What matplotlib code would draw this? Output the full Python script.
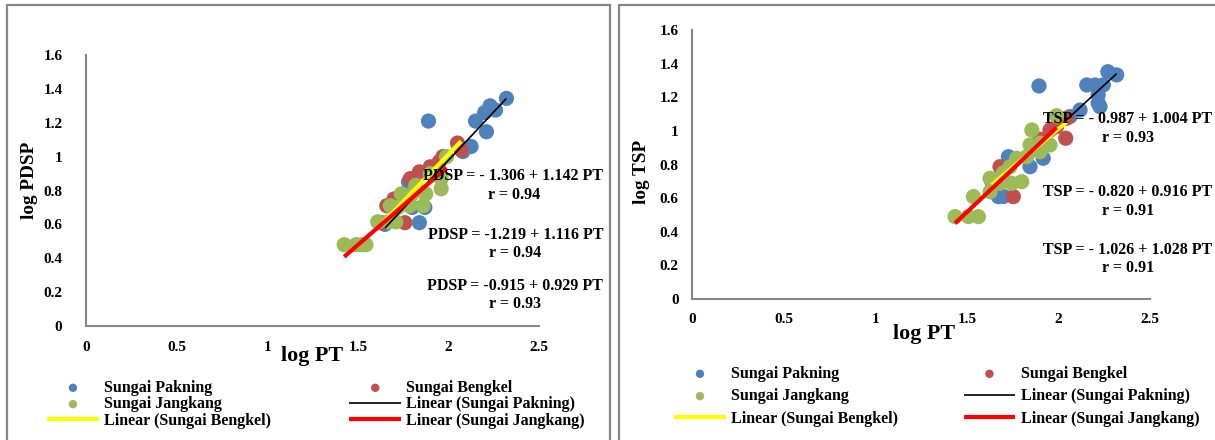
import matplotlib
matplotlib.use("Agg")
import matplotlib.pyplot as plt
from matplotlib.patches import Rectangle
from matplotlib.ticker import FuncFormatter
import numpy as np

plt.rcParams['font.family'] = ['Liberation Serif', 'DejaVu Serif']
plt.rcParams['font.weight'] = 'bold'

# ---------------- data: left panel (log PDSP vs log PT) ----------------
pdsp_pakning_x = [1.89, 2.32, 2.23, 2.26, 2.20, 2.15, 2.21, 2.125, 2.08, 1.78, 1.80, 1.87, 1.84, 1.65]
pdsp_pakning_y = [1.21, 1.344, 1.30, 1.275, 1.26, 1.21, 1.147, 1.06, 1.03, 0.85, 0.70, 0.70, 0.61, 0.60]
pdsp_bengkel_x = [2.05, 2.07, 1.97, 1.95, 1.90, 1.84, 1.79, 1.66, 1.76, 1.63, 1.70]
pdsp_bengkel_y = [1.08, 1.04, 1.00, 0.97, 0.94, 0.91, 0.87, 0.71, 0.61, 0.61, 0.75]
pdsp_jangkang_x = [1.425, 1.49, 1.52, 1.545, 1.61, 1.67, 1.71, 1.68, 1.74, 1.80, 1.875, 1.86,
                   1.785, 1.96, 1.96, 1.99, 1.82, 1.90, 1.72]
pdsp_jangkang_y = [0.48, 0.48, 0.48, 0.48, 0.615, 0.615, 0.615, 0.71, 0.78, 0.78, 0.78, 0.71,
                   0.71, 0.81, 0.87, 1.00, 0.83, 0.90, 0.70]
# trendline coefficients (intercept, slope) printed on chart
pdsp_fit_pakning = (-1.306, 1.142)
pdsp_fit_bengkel = (-1.219, 1.116)
pdsp_fit_jangkang = (-0.915, 0.929)
pdsp_eq_texts = ["PDSP = - 1.306 + 1.142 PT", "PDSP = -1.219 + 1.116 PT", "PDSP = -0.915 + 0.929 PT"]
pdsp_r_texts = ["r = 0.94", "r = 0.94", "r = 0.93"]

# ---------------- data: right panel (log TSP vs log PT) ----------------
tsp_pakning_x = [1.894, 2.27, 2.318, 2.155, 2.20, 2.245, 2.217, 2.217, 2.227, 2.118, 2.063,
                 1.727, 1.917, 1.845, 1.672, 1.70]
tsp_pakning_y = [1.267, 1.352, 1.333, 1.273, 1.273, 1.273, 1.214, 1.165, 1.144, 1.124, 1.085,
                 0.846, 0.837, 0.787, 0.609, 0.61]
tsp_bengkel_x = [2.045, 1.99, 1.954, 2.04, 1.681, 1.754, 1.636, 1.90]
tsp_bengkel_y = [1.075, 1.025, 1.005, 0.956, 0.787, 0.609, 0.70, 0.95]
tsp_jangkang_x = [1.436, 1.508, 1.563, 1.536, 1.627, 1.627, 1.681, 1.745, 1.80, 1.736, 1.772,
                  1.827, 1.845, 1.90, 1.954, 1.855, 1.99, 1.90, 1.70]
tsp_jangkang_y = [0.49, 0.49, 0.49, 0.609, 0.638, 0.718, 0.688, 0.688, 0.698, 0.787, 0.837,
                  0.846, 0.916, 0.926, 0.916, 1.005, 1.09, 0.876, 0.75]
tsp_fit_pakning = (-0.987, 1.004)
tsp_fit_bengkel = (-0.820, 0.916)
tsp_fit_jangkang = (-1.026, 1.028)
tsp_eq_texts = ["TSP = - 0.987 + 1.004 PT", "TSP = - 0.820 + 0.916 PT", "TSP = - 1.026 + 1.028 PT"]
tsp_r_texts = ["r = 0.93", "r = 0.91", "r = 0.91"]

series_names = ["Sungai Pakning", "Sungai Bengkel", "Sungai Jangkang"]
x_ticks = [0, 0.5, 1, 1.5, 2, 2.5]
y_ticks = [0, 0.2, 0.4, 0.6, 0.8, 1.0, 1.2, 1.4, 1.6]

C_BLUE = "#4F81BD"
C_RED = "#C0504D"
C_GREEN = "#9BBB59"
GREY = "#868686"

FS = 11.5  # main text size

W, H = 1215, 440
fig = plt.figure(figsize=(W / 100, H / 100), dpi=100)


def fx(px):
    return px / W


def fy(py):
    return 1 - py / H


# panel borders
fig.patches.append(Rectangle((fx(7), fy(445)), fx(610 - 7), (445 - 5) / H,
                             transform=fig.transFigure, fill=False, edgecolor=GREY, lw=1.6))
fig.patches.append(Rectangle((fx(619), fy(445)), fx(1222 - 619), (445 - 5) / H,
                             transform=fig.transFigure, fill=False, edgecolor=GREY, lw=1.6))

fmt = FuncFormatter(lambda v, p: f"{v:g}")


def make_panel(rect, data, fits, eqs, rs, eq_pos, ylabel, ylab_pos, xlab_pos, ypad, xpad,
               leg_anchor, leg_spacing, colspace):
    ax = fig.add_axes(rect)
    (px, py), (bx, by), (jx, jy) = data
    s_p = ax.scatter(px, py, s=120, color=C_BLUE, edgecolors='none', zorder=2)
    s_b = ax.scatter(bx, by, s=120, color=C_RED, edgecolors='none', zorder=3)
    s_j = ax.scatter(jx, jy, s=120, color=C_GREEN, edgecolors='none', zorder=4)
    lines = []
    for (xs, fit, col, lw, z) in [(px, fits[0], 'black', 1.2, 5),
                                   (bx, fits[1], '#FFFF00', 3.0, 6),
                                   (jx, fits[2], '#FF0000', 3.0, 7)]:
        xr = np.array([min(xs), max(xs)])
        ln, = ax.plot(xr, fit[0] + fit[1] * xr, color=col, lw=lw, zorder=z,
                      solid_capstyle='butt')
        lines.append(ln)
    ax.set_xlim(0, 2.5)
    ax.set_ylim(0, 1.6)
    ax.set_xticks(x_ticks)
    ax.set_yticks(y_ticks)
    ax.xaxis.set_major_formatter(fmt)
    ax.yaxis.set_major_formatter(fmt)
    ax.tick_params(length=0, labelsize=11)
    ax.tick_params(axis='y', pad=ypad)
    ax.tick_params(axis='x', pad=xpad)
    for lab in ax.get_xticklabels() + ax.get_yticklabels():
        lab.set_fontweight('bold')
    for sp in ['top', 'right']:
        ax.spines[sp].set_visible(False)
    for sp in ['left', 'bottom']:
        ax.spines[sp].set_color(GREY)
        ax.spines[sp].set_linewidth(1.5)
    ax.set_facecolor('none')

    # equations
    for i, (e, r) in enumerate(zip(eqs, rs)):
        ex, ey, rx, ry = eq_pos[i]
        fig.text(fx(ex), fy(ey), e, ha='right', va='center', fontsize=FS, fontweight='bold',
                 zorder=10)
        fig.text(fx(rx), fy(ry), r, ha='center', va='center', fontsize=FS, fontweight='bold',
                 zorder=10)

    fig.text(fx(ylab_pos[0]), fy(ylab_pos[1]), ylabel, rotation=90, ha='center', va='center',
             fontsize=13.8, fontweight='bold')
    fig.text(fx(xlab_pos[0]), fy(xlab_pos[1]), "log PT", ha='center', va='center',
             fontsize=15.8, fontweight='bold')

    handles = [s_p, s_j, lines[1], s_b, lines[0], lines[2]]
    labels = [series_names[0], series_names[2], "Linear (" + series_names[1] + ")",
              series_names[1], "Linear (" + series_names[0] + ")",
              "Linear (" + series_names[2] + ")"]
    fig.legend(handles, labels, loc='upper left', bbox_to_anchor=leg_anchor,
               bbox_transform=fig.transFigure, ncol=2, frameon=False,
               prop={'size': FS, 'weight': 'bold'}, handlelength=3.25,
               handletextpad=0.32, columnspacing=colspace, borderpad=0,
               labelspacing=leg_spacing, markerscale=0.55, borderaxespad=0)
    return ax


make_panel([fx(86), fy(326), fx(539 - 86), (326 - 55) / H],
           [(pdsp_pakning_x, pdsp_pakning_y), (pdsp_bengkel_x, pdsp_bengkel_y),
            (pdsp_jangkang_x, pdsp_jangkang_y)],
           [pdsp_fit_pakning, pdsp_fit_bengkel, pdsp_fit_jangkang],
           pdsp_eq_texts, pdsp_r_texts,
           [(603, 176, 514, 195), (603, 235, 515, 253), (603, 286, 515, 304)],
           "log PDSP", (30, 180), (312, 356), 17, 11,
           (fx(47), fy(380)), 0.02, 4.9)

make_panel([fx(692), fy(299), fx(1150 - 692), (299 - 30) / H],
           [(tsp_pakning_x, tsp_pakning_y), (tsp_bengkel_x, tsp_bengkel_y),
            (tsp_jangkang_x, tsp_jangkang_y)],
           [tsp_fit_pakning, tsp_fit_bengkel, tsp_fit_jangkang],
           tsp_eq_texts, tsp_r_texts,
           [(1212, 119, 1128, 138), (1212, 192, 1128, 211), (1212, 250, 1128, 268)],
           "log TSP", (641, 172), (924, 334), 9.5, 10,
           (fx(674), fy(366)), 0.4, 4.1)

fig.savefig("out.png", dpi=100)
